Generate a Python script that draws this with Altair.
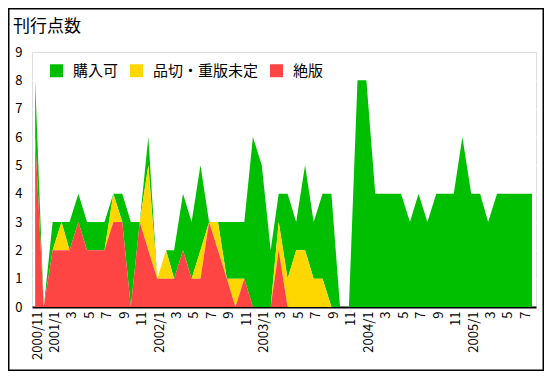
import altair as alt
import pandas as pd

# ---- data -------------------------------------------------------------
chart_title = "刊行点数"
series_names = ["購入可", "品切・重版未定", "絶版"]
series_colors = ["#00BF00", "#FFD700", "#FF4444"]
stack_rank = {"絶版": 0, "品切・重版未定": 1, "購入可": 2}

first_year, first_month, n_months = 2000, 11, 58
months = []
_y, _m = first_year, first_month
for _ in range(n_months):
    months.append(f"{_y}-{_m:02d}-01")
    _m += 1
    if _m > 12:
        _m, _y = 1, _y + 1

available = [2, 0, 1, 0, 1, 1, 1, 1, 1, 0,
             1, 3, 0, 1, 0, 0, 1, 2, 2, 3,
             0, 0, 2, 2, 2, 6, 5, 2, 1, 3,
             1, 3, 2, 3, 4, 0, 0, 8, 8, 4,
             4, 4, 4, 3, 4, 3, 4, 4, 4, 6,
             4, 4, 3, 4, 4, 4, 4, 4]
out_of_stock = [0, 0, 0, 1, 0, 0, 0, 0, 0, 1,
                0, 0, 0, 3, 0, 1, 0, 0, 0, 1,
                0, 1, 0, 1, 0, 0, 0, 0, 1, 1,
                2, 2, 1, 1, 0, 0, 0, 0, 0, 0,
                0, 0, 0, 0, 0, 0, 0, 0, 0, 0,
                0, 0, 0, 0, 0, 0, 0, 0]
out_of_print = [6, 0, 2, 2, 2, 3, 2, 2, 2, 3,
                3, 0, 3, 2, 1, 1, 1, 2, 1, 1,
                3, 2, 1, 0, 1, 0, 0, 0, 2, 0,
                0, 0, 0, 0, 0, 0, 0, 0, 0, 0,
                0, 0, 0, 0, 0, 0, 0, 0, 0, 0,
                0, 0, 0, 0, 0, 0, 0, 0]

y_ticks = list(range(0, 10))

rows = []
for name, vals in zip(series_names, [available, out_of_stock, out_of_print]):
    for mo, v in zip(months, vals):
        rows.append({"month": mo, "series": name, "value": v, "rank": stack_rank[name]})
df = pd.DataFrame(rows)

# odd-month ticks
tick_values = []
for mo in months:
    yy, mm = int(mo[:4]), int(mo[5:7])
    if mm % 2 == 1:
        tick_values.append(alt.DateTime(year=yy, month=mm, date=1, utc=True))

font = "Noto Sans CJK JP"
label_expr = (
    f"(utcmonth(datum.value) == 0 || utcyear(datum.value) == {first_year}) ? "
    "(utcyear(datum.value) + '/' + (utcmonth(datum.value) + 1)) : ('' + (utcmonth(datum.value) + 1))"
)

area = alt.Chart(df).mark_area(opacity=1, interpolate="linear").encode(
    x=alt.X(
        "month:T",
        scale=alt.Scale(
            type="utc",
            nice=False,
            domain=[alt.DateTime(year=2000, month=10, date=21, utc=True),
                    alt.DateTime(year=2005, month=8, date=15, utc=True)],
        ),
        axis=alt.Axis(
            title=None, values=tick_values, labelExpr=label_expr, labelAngle=-90,
            labelFontSize=13, labelFont=font, labelColor="black", labelPadding=4,
            labelOffset=2, ticks=False, grid=False, domainColor="black", domainWidth=2,
            labelOverlap=False,
        ),
    ),
    y=alt.Y(
        "value:Q",
        stack="zero",
        scale=alt.Scale(domain=[0, 9], nice=False),
        axis=alt.Axis(
            title=None, values=y_ticks, labelFontSize=13, labelFont=font, labelColor="black",
            labelPadding=10, ticks=False, domain=False, grid=True, gridColor="white",
            gridWidth=2, gridOpacity={"condition": {"test": "datum.value >= 9", "value": 0}, "value": 1},
        ),
    ),
    color=alt.Color(
        "series:N",
        scale=alt.Scale(domain=series_names, range=series_colors),
        legend=alt.Legend(
            title=None, orient="none", legendX=11, legendY=5, direction="horizontal",
            fillColor="white", padding=6, symbolType="square", symbolSize=169,
            symbolStrokeWidth=0, symbolOpacity=1, labelFontSize=15, labelFont=font,
            labelColor="black", labelOffset=9, columnPadding=10,
        ),
    ),
    order=alt.Order("rank:Q", sort="ascending"),
)

title_mark = alt.Chart(alt.Data(values=[{"t": chart_title}])).mark_text(
    align="left", baseline="alphabetic", fontSize=17, font=font, color="black"
).encode(x=alt.value(-19), y=alt.value(-20), text="t:N")

frame = alt.Chart(alt.Data(values=[{}])).mark_rect(
    fillOpacity=0, stroke="black", strokeWidth=1.5
).encode(x=alt.value(-23.25), x2=alt.value(511.25), y=alt.value(-43.25), y2=alt.value(318.25))

chart = alt.layer(area, title_mark, frame).properties(
    width=504, height=255,
    autosize=alt.AutoSizeParams(type="none"),
    padding={"left": 24, "top": 44, "right": 8, "bottom": 64},
).configure_view(fill="#C2EBFB", strokeWidth=0).configure(font=font)

chart.save("out.html", embed_options={"renderer": "svg", "actions": False})
